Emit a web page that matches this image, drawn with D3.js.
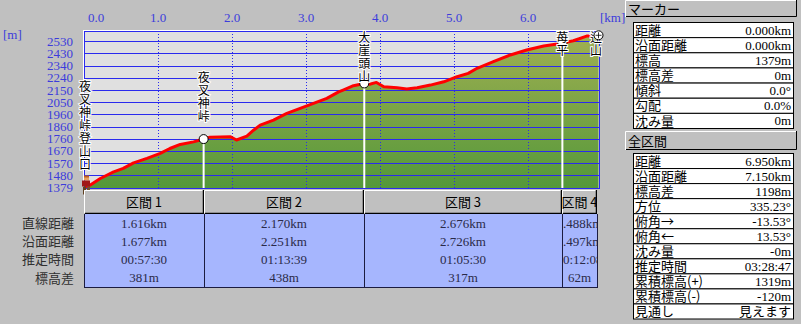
<!DOCTYPE html>
<html>
<head>
<meta charset="utf-8">
<script src="https://cdn.jsdelivr.net/npm/d3@7"></script>
<style>
body { margin: 0; background: #c0c0c0; }
svg { display: block; font-family: "Liberation Serif", "Noto Sans CJK JP", serif; }
.jp { font-family: "Noto Sans CJK JP", sans-serif; }
</style>
</head>
<body>
<svg id="chart" width="801" height="324"></svg>
<script>
// elevation profile
var distKm = [0, 0.08, 0.22, 0.40, 0.53, 0.67, 0.85, 1.03, 1.16, 1.30, 1.48, 1.616,
  1.70, 1.98, 2.06, 2.20, 2.29, 2.38, 2.56, 2.74, 2.92, 3.10, 3.28, 3.44, 3.50, 3.64, 3.786,
  3.86, 3.95, 4.05, 4.23, 4.36, 4.50, 4.68, 4.86, 5.04, 5.19, 5.31, 5.53, 5.76, 5.98, 6.21,
  6.462, 6.61, 6.79, 6.90, 6.95];
var elevM = [1379, 1397, 1450, 1502, 1529, 1573, 1608, 1647, 1686, 1718, 1738, 1760,
  1775, 1778, 1753, 1784, 1830, 1870, 1909, 1962, 2002, 2041, 2080, 2132, 2146, 2180, 2198,
  2192, 2206, 2172, 2164, 2154, 2164, 2185, 2211, 2251, 2277, 2317, 2369, 2422, 2461, 2493,
  2515, 2534, 2571, 2572, 2577];

var xTicks = [0, 1, 2, 3, 4, 5, 6];
var xTickLabels = ["0.0", "1.0", "2.0", "3.0", "4.0", "5.0", "6.0"];
var yTickLabels = ["1379", "1480", "1570", "1670", "1760", "1860", "1960", "2050", "2150", "2240", "2340", "2430", "2530"];
var yTickStep = 95.92;

var markerNames = ["夜叉神峠登山口", "夜叉神峠", "大崖頭山", "苺平", "辻山"];
var markerKm = [0, 1.616, 3.786, 6.462, 6.95];
var markerElev = [1379, 1760, 2198, 2515, 2577];

var sectionNames = ["区間 1", "区間 2", "区間 3", "区間 4"];
var rowLabels = ["直線距離", "沿面距離", "推定時間", "標高差"];
var sectionStraight = ["1.616km", "2.170km", "2.676km", "0.488km"];
var sectionSurface = ["1.677km", "2.251km", "2.726km", "0.497km"];
var sectionTime = ["00:57:30", "01:13:39", "01:05:30", "00:12:08"];
var sectionRise = ["381m", "438m", "317m", "62m"];

var markerLabels = ["距離", "沿面距離", "標高", "標高差", "傾斜", "勾配", "沈み量"];
var markerValues = ["0.000km", "0.000km", "1379m", "0m", "0.0°", "0.0%", "0m"];
var totalLabels = ["距離", "沿面距離", "標高差", "方位", "俯角→", "俯角←", "沈み量", "推定時間", "累積標高(+)", "累積標高(-)", "見通し"];
var totalValues = ["6.950km", "7.150km", "1198m", "335.23°", "-13.53°", "13.53°", "-0m", "03:28:47", "1319m", "-120m", "見えます"];

var svg = d3.select("#chart");
var blue = "#3c3cdc";
var gridBlue = "#2a2aee";
var pl = 84, pr = 599, pt = 31, pb = 188;

var x = d3.scaleLinear().domain([0, 6.95]).range([pl, 598.5]);
var y = d3.scaleLinear().domain([1379, 2532]).range([187.5, 41]);
var profile = distKm.map(function (d, i) { return [d, elevM[i]]; });

var defs = svg.append("defs");
var grad = defs.append("linearGradient").attr("id", "fill")
  .attr("gradientUnits", "userSpaceOnUse")
  .attr("x1", 0).attr("x2", 0).attr("y1", pt).attr("y2", pb);
grad.append("stop").attr("offset", 0).attr("stop-color", "#a2b052");
grad.append("stop").attr("offset", 1).attr("stop-color", "#54983a");

defs.append("clipPath").attr("id", "plotclip").append("rect")
  .attr("x", pl).attr("y", pt).attr("width", pr - pl).attr("height", pb - pt);

// plot background
svg.append("rect").attr("x", pl).attr("y", pt)
  .attr("width", pr - pl).attr("height", pb - pt).attr("fill", "#e0e0e0");

var plot = svg.append("g").attr("clip-path", "url(#plotclip)");

plot.append("path")
  .datum(profile)
  .attr("fill", "url(#fill)")
  .attr("d", d3.area().x(function (d) { return x(d[0]); }).y0(pb).y1(function (d) { return y(d[1]); }));

// horizontal grid
var yTicks = yTickLabels.map(function (d, i) { return 1379 + i * yTickStep; });
plot.selectAll(".hgrid").data(yTicks).enter().append("line")
  .attr("x1", pl).attr("x2", pr)
  .attr("y1", function (d) { return Math.round(y(d)) + 0.5; })
  .attr("y2", function (d) { return Math.round(y(d)) + 0.5; })
  .attr("stroke", gridBlue).attr("stroke-width", 1);

// vertical dotted grid
plot.selectAll(".vgrid").data(xTicks.slice(1)).enter().append("line")
  .attr("x1", function (d) { return Math.round(x(d)) + 0.5; })
  .attr("x2", function (d) { return Math.round(x(d)) + 0.5; })
  .attr("y1", pt).attr("y2", pb)
  .attr("stroke", gridBlue).attr("stroke-dasharray", "1,2");

// section marker lines
plot.selectAll(".mline").data(markerKm.slice(1, 4)).enter().append("line")
  .attr("x1", function (d) { return x(d); })
  .attr("x2", function (d) { return x(d); })
  .attr("y1", function (d, i) { return y(markerElev[i + 1]); })
  .attr("y2", pb + 2)
  .attr("stroke", "#fff").attr("stroke-width", 2);

// profile line
plot.append("path")
  .datum(profile)
  .attr("fill", "none").attr("stroke", "#ff0000").attr("stroke-width", 3)
  .attr("stroke-linejoin", "round")
  .attr("d", d3.line().x(function (d) { return x(d[0]); }).y(function (d) { return y(d[1]); }));

// borders
svg.append("line").attr("x1", pl - 1).attr("x2", pr).attr("y1", pt - 0.5).attr("y2", pt - 0.5).attr("stroke", "#fff");
svg.append("line").attr("x1", pl).attr("x2", pr).attr("y1", pt + 0.5).attr("y2", pt + 0.5).attr("stroke", gridBlue);
svg.append("line").attr("x1", pl - 0.5).attr("x2", pl - 0.5).attr("y1", pt).attr("y2", pb + 1).attr("stroke", "#fff");
svg.append("line").attr("x1", pl + 0.5).attr("x2", pl + 0.5).attr("y1", pt).attr("y2", pb).attr("stroke", gridBlue);
svg.append("line").attr("x1", pr + 0.5).attr("x2", pr + 0.5).attr("y1", pt).attr("y2", pb).attr("stroke", gridBlue);
svg.append("line").attr("x1", pl).attr("x2", pr + 1).attr("y1", pb + 0.5).attr("y2", pb + 0.5).attr("stroke", gridBlue);

// marker circles
svg.selectAll(".mdot").data(markerKm.slice(1, 4)).enter().append("circle")
  .attr("cx", function (d) { return x(d); })
  .attr("cy", function (d, i) { return y(markerElev[i + 1]); })
  .attr("r", 4.5).attr("fill", "#fff").attr("stroke", "#000");

// vertical labels, one text each, set top to bottom
markerNames.forEach(function (name, i) {
  var n = name.length;
  var my = y(markerElev[i]);
  var first = my - 22.5 - 13 * (n - 1);
  if (first < 38) first = 38;
  var lx = Math.min(x(markerKm[i]) + (i === 0 ? 1 : 0), 596);
  svg.append("text")
    .attr("class", "jp")
    .attr("x", lx)
    .attr("y", first - 6.5)
    .attr("writing-mode", "vertical-rl")
    .attr("letter-spacing", 1)
    .attr("font-size", 12)
    .attr("fill", "#000")
    .attr("stroke", "#fff").attr("stroke-width", 2).attr("paint-order", "stroke")
    .text(name);
});

// summit icon
var sx = x(6.95), sy = y(2577);
svg.append("circle").attr("cx", sx).attr("cy", sy).attr("r", 4.5).attr("fill", "#fff").attr("stroke", "#000");
svg.append("path").attr("d", "M" + (sx - 3) + "," + sy + "h6M" + sx + "," + (sy - 3) + "v6")
  .attr("stroke", "#000").attr("stroke-width", 0.8);

// hiker at the start
var hx = x(0) + 3, hy = y(1379);
var hiker = svg.append("g");
hiker.append("rect").attr("x", hx - 3).attr("y", hy - 11).attr("width", 5).attr("height", 4).attr("fill", "#e8a060");
hiker.append("rect").attr("x", hx - 3).attr("y", hy - 12).attr("width", 5).attr("height", 2).attr("fill", "#c06020");
hiker.append("rect").attr("x", hx - 5).attr("y", hy - 7).attr("width", 8).attr("height", 6).attr("fill", "#a01818");
hiker.append("rect").attr("x", hx - 4).attr("y", hy - 1).attr("width", 3).attr("height", 8).attr("fill", "#604020");
hiker.append("rect").attr("x", hx).attr("y", hy - 1).attr("width", 3).attr("height", 7).attr("fill", "#705030");

// axis labels
svg.selectAll(".ylab").data(yTicks).enter().append("text")
  .attr("x", 73).attr("y", function (d) { return y(d); }).attr("dy", "0.35em")
  .attr("text-anchor", "end").attr("font-size", 13).attr("fill", blue)
  .text(function (d, i) { return yTickLabels[i]; });
svg.append("text").attr("x", 3).attr("y", 34).attr("dy", "0.35em")
  .attr("font-size", 13).attr("fill", blue).text("[m]");

svg.selectAll(".xlab").data(xTicks).enter().append("text")
  .attr("x", function (d, i) { return i === 0 ? x(d) + 4 : x(d); })
  .attr("y", 17).attr("dy", "0.35em")
  .attr("text-anchor", function (d, i) { return i === 0 ? "start" : "middle"; })
  .attr("font-size", 13).attr("fill", blue)
  .text(function (d, i) { return xTickLabels[i]; });
svg.append("text").attr("x", 600).attr("y", 17).attr("dy", "0.35em")
  .attr("font-size", 13).attr("fill", blue).text("[km]");

// section table
var bounds = [0].concat(markerKm.slice(1));
var cellX = bounds.map(function (d) { return Math.round(x(d)); });
cellX[cellX.length - 1] = 597;
var rowBand = d3.scaleBand().domain(rowLabels).range([214, 287]);
var sectionRows = [sectionStraight, sectionSurface, sectionTime, sectionRise];

sectionNames.forEach(function (name, i) {
  var x0 = cellX[i], x1 = cellX[i + 1];
  var clipId = "cell" + i;
  defs.append("clipPath").attr("id", clipId).append("rect")
    .attr("x", x0).attr("y", 190).attr("width", x1 - x0).attr("height", 98);
  var g = svg.append("g").attr("clip-path", "url(#" + clipId + ")");
  g.append("rect").attr("x", x0).attr("y", 190).attr("width", x1 - x0).attr("height", 24).attr("fill", "#c0c0c0");
  g.append("path").attr("d", "M" + (x0 + 0.5) + ",213V190.5H" + (x1 - 1))
    .attr("fill", "none").attr("stroke", "#fff");
  g.append("path").attr("d", "M" + (x0 + 1) + ",213.5H" + (x1 - 0.5) + "V190")
    .attr("fill", "none").attr("stroke", "#000").attr("stroke-width", 1.5);
  g.append("text").attr("class", "jp").attr("x", (x0 + x1) / 2).attr("y", 202).attr("dy", "0.36em")
    .attr("text-anchor", "middle").attr("font-size", 13).attr("fill", "#000").text(name);
  g.append("rect").attr("x", x0).attr("y", 214).attr("width", x1 - x0).attr("height", 73).attr("fill", "#a6b6fe");
  rowLabels.forEach(function (r, j) {
    g.append("text").attr("x", (x0 + x1) / 2).attr("y", rowBand(r) + rowBand.bandwidth() / 2)
      .attr("dy", "0.35em").attr("text-anchor", "middle").attr("font-size", 13)
      .attr("fill", "#2a2a48").text(sectionRows[j][i]);
  });
});
svg.selectAll(".cellsep").data(cellX).enter().append("line")
  .attr("x1", function (d) { return d + 0.5; }).attr("x2", function (d) { return d + 0.5; })
  .attr("y1", 214).attr("y2", 288).attr("stroke", "#1c1c40");
svg.append("line").attr("x1", cellX[0]).attr("x2", 598).attr("y1", 287.5).attr("y2", 287.5).attr("stroke", "#1c1c40");

svg.selectAll(".rowlab").data(rowLabels).enter().append("text")
  .attr("class", "jp").attr("x", 74)
  .attr("y", function (d) { return rowBand(d) + rowBand.bandwidth() / 2; })
  .attr("dy", "0.36em").attr("text-anchor", "end").attr("font-size", 13).attr("fill", "#303030")
  .text(function (d) { return d; });

// right panels
function button(yTop, h, label) {
  svg.append("rect").attr("x", 625).attr("y", yTop).attr("width", 172).attr("height", h).attr("fill", "#c0c0c0");
  svg.append("path").attr("d", "M625.5," + (yTop + h) + "V" + (yTop + 0.5) + "H797")
    .attr("fill", "none").attr("stroke", "#fff");
  svg.append("path").attr("d", "M626," + (yTop + h - 0.5) + "H796.5V" + yTop)
    .attr("fill", "none").attr("stroke", "#000");
  svg.append("text").attr("class", "jp").attr("x", 628).attr("y", yTop + h / 2 + 0.5).attr("dy", "0.36em")
    .attr("font-size", 13).attr("fill", "#000").text(label);
}
function panel(yTop, yBot, labels, values) {
  var band = d3.scaleBand().domain(labels).range([yTop, yBot]);
  var g = svg.append("g");
  g.selectAll("rect").data(labels).enter().append("rect")
    .attr("x", 633.5).attr("y", function (d) { return band(d) + 0.5; })
    .attr("width", 160).attr("height", band.bandwidth())
    .attr("fill", "#fff").attr("stroke", "#000");
  g.selectAll(".pl").data(labels).enter().append("text")
    .attr("class", "jp").attr("x", 635)
    .attr("y", function (d) { return band(d) + band.bandwidth() / 2 + 0.5; })
    .attr("dy", "0.36em").attr("font-size", 13).attr("fill", "#000")
    .text(function (d) { return d; });
  g.selectAll(".pv").data(values).enter().append("text")
    .attr("x", 791).attr("y", function (d, i) { return band(labels[i]) + band.bandwidth() / 2 + 0.5; })
    .attr("dy", "0.35em").attr("text-anchor", "end").attr("font-size", 13).attr("fill", "#000")
    .text(function (d) { return d; });
}
button(0, 17, "マーカー");
panel(22, 128, markerLabels, markerValues);
button(131, 19, "全区間");
panel(153, 318.5, totalLabels, totalValues);
</script>
</body>
</html>
